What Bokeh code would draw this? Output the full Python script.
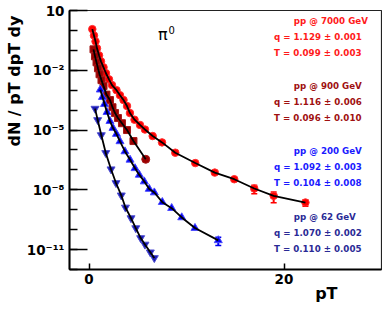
import numpy as np
from bokeh.plotting import figure
from bokeh.models import FixedTicker, Label, ColumnDataSource, Whisker, TeeHead, CustomJSTickFormatter, Range1d, Title
from bokeh.embed import file_html
from bokeh.resources import INLINE

# ---- data ----
pt_7000 = [0.34, 0.51, 0.67, 0.82, 1.03, 1.23, 1.49, 1.74, 2.05, 2.36, 2.82, 3.18, 3.54, 3.90,
           4.20, 4.67, 5.23, 5.74, 6.53, 7.49, 8.85, 10.9, 12.9, 14.9, 16.95, 18.94, 22.2]
y_7000 = [1.16, 0.56, 0.28, 0.126, 0.056, 0.028, 0.014, 7.1e-3, 3.5e-3, 1.8e-3, 1.0e-3, 5.6e-4,
          3.2e-4, 1.6e-4, 7.1e-5, 3.3e-5, 1.8e-5, 1.06e-5, 5.0e-6, 2.4e-6, 7.3e-7, 2.2e-7,
          7.3e-8, 3.4e-8, 1.16e-8, 5.0e-9, 2.3e-9]
err_7000 = [0] * 22 + [0.1, 0.2, 0.45, 0.55, 0.35]

pt_900 = [0.46, 0.62, 0.77, 0.92, 1.08, 1.28, 1.49, 1.79, 2.15, 2.41, 2.67, 2.97, 3.38, 3.90, 4.56, 5.82]
y_900 = [0.112, 0.05, 0.025, 0.0126, 6.3e-3, 3.2e-3, 1.6e-3, 6.0e-4, 3.2e-4, 1.4e-4, 7.1e-5,
         4.0e-5, 2.2e-5, 1.0e-5, 2.8e-6, 3.4e-7]

pt_200 = [1.16, 1.38, 1.59, 1.85, 2.15, 2.46, 2.82, 3.18, 3.69, 4.21, 4.72, 5.16, 5.67, 6.18,
          6.70, 7.52, 8.48, 9.51, 10.87, 13.26]
y_200 = [1.06e-3, 4.5e-4, 2.0e-4, 7.9e-5, 2.8e-5, 1.26e-5, 6.3e-6, 2.7e-6, 8.4e-7, 3.2e-7,
         1.2e-7, 5.6e-8, 2.6e-8, 1.1e-8, 7.3e-9, 2.4e-9, 1.2e-9, 4.1e-10, 1.2e-10, 2.9e-11]
err_200 = [0] * 19 + [0.45]

pt_62 = [0.62, 0.89, 1.26, 1.72, 2.26, 2.77, 3.31, 3.74, 4.31, 4.80, 5.30, 5.74, 6.29, 6.70]
y_62 = [1.19e-4, 3.2e-5, 5.6e-6, 7.1e-7, 1.08e-7, 2.2e-8, 5.3e-9, 1.3e-9, 3.8e-10, 1.2e-10,
        3.8e-11, 1.8e-11, 7.3e-12, 3.8e-12]

energies = ["7000", "900", "200", "62"]
q_vals = ["1.129", "1.116", "1.092", "1.070"]
q_errs = ["0.001", "0.006", "0.003", "0.002"]
T_vals = ["0.099", "0.096", "0.104", "0.110"]
T_errs = ["0.003", "0.010", "0.008", "0.005"]
text_colors = ["#ff1a1a", "#a01010", "#1a1aff", "#2a2a96"]

y_major = [10, 1e-2, 1e-5, 1e-8, 1e-11]
y_minor = [10.0 ** k for k in range(-12, 2)]
x_major = [0, 20]

FONT = "DejaVu Sans"

p = figure(width=382, height=302, output_backend="svg", toolbar_location=None,
           y_axis_type="log", x_range=Range1d(-2, 30), y_range=Range1d(1e-12, 10),
           min_border_left=69, min_border_right=1, min_border_top=10, min_border_bottom=33)
p.xgrid.visible = False
p.ygrid.visible = False
p.outline_line_color = "#222222"
p.outline_line_width = 1.2
p.background_fill_color = "white"

for ax in (p.xaxis[0], p.yaxis[0]):
    ax.axis_line_width = 2
    ax.axis_line_color = "black"
    ax.major_tick_line_color = "black"
    ax.minor_tick_line_color = "black"
    ax.major_tick_line_width = 1.5
    ax.minor_tick_line_width = 1.5
    ax.major_tick_out = 0
    ax.minor_tick_out = 0
    ax.major_label_text_font = FONT
    ax.major_label_text_font_style = "bold"
    ax.major_label_text_font_size = "13.5px"
    ax.major_label_text_color = "black"

p.xaxis.ticker = FixedTicker(ticks=x_major, minor_ticks=[])
p.xaxis.major_tick_in = 6
p.xaxis.major_label_standoff = 4

p.yaxis.ticker = FixedTicker(ticks=y_major, minor_ticks=y_minor)
p.yaxis.major_tick_in = 18
p.yaxis.minor_tick_in = 8
p.yaxis.major_label_standoff = 5
p.yaxis.formatter = CustomJSTickFormatter(code="""
const e = Math.round(Math.log10(tick));
if (e == 1) { return "10"; }
const sup = {"-": "\u207b", "0": "\u2070", "1": "\u00b9", "2": "\u00b2", "3": "\u00b3",
             "4": "\u2074", "5": "\u2075", "6": "\u2076", "7": "\u2077", "8": "\u2078", "9": "\u2079"};
return "10" + String(e).split("").map(c => sup[c]).join("");
""")

# axis titles
p.add_layout(Title(text="dN / pT dpT dy", align="right", offset=5, standoff=0,
                   text_font=FONT, text_font_style="bold", text_font_size="16px",
                   text_color="black"), "left")
p.add_layout(Title(text="pT", align="right", offset=44, standoff=-9,
                   text_font=FONT, text_font_style="bold", text_font_size="16px",
                   text_color="black"), "below")

# pi0
p.add_layout(Label(x=7.08, y=10 ** -0.2, text="π", text_align="left", text_baseline="middle",
                   text_font=FONT, text_font_size="16px", text_color="black"))
p.add_layout(Label(x=8.15, y=1.0, text="0", text_align="left", text_baseline="middle",
                   text_font=FONT, text_font_size="10px", text_color="black"))

# parameter texts
head_logy = [0.45, -2.8, -6.05, -9.35]
for i in range(4):
    ly = head_logy[i]
    lines = [(21.0, ly, f"pp @ {energies[i]} GeV"),
             (18.97, ly - 0.8, f"q = {q_vals[i]} ± {q_errs[i]}"),
             (18.97, ly - 1.6, f"T = {T_vals[i]} ± {T_errs[i]}")]
    for x, l, txt in lines:
        p.add_layout(Label(x=x, y=10 ** l, text=txt, text_align="left", text_baseline="middle",
                           text_font=FONT, text_font_style="bold", text_font_size="8.7px",
                           text_color=text_colors[i]))

# markers
p.scatter(pt_7000, y_7000, marker="circle", size=7.5, fill_color="#ff0000", line_color="#ff3030")
p.scatter(pt_900[:-1], y_900[:-1], marker="square", size=7, fill_color="#9b0000", line_color="#a51a1a")
p.scatter(pt_900[-1:], y_900[-1:], marker="circle", size=8, fill_color="#9b0000", line_color="#a51a1a")
p.scatter(pt_200, y_200, marker="triangle", size=8, fill_color="#0000f0", line_color="#4a4aff")
p.scatter(pt_62, y_62, marker="inverted_triangle", size=8, fill_color="#1a1ab4", line_color="#5050d0")

# error bars
def whisk(xs, ys, es, color):
    sel = [i for i, e in enumerate(es) if e > 0]
    src = ColumnDataSource(dict(x=[xs[i] for i in sel],
                                up=[ys[i] * (1 + es[i]) for i in sel],
                                lo=[ys[i] * (1 - es[i]) for i in sel]))
    w = Whisker(base="x", upper="up", lower="lo", source=src, dimension="height",
                line_color=color, line_width=2,
                upper_head=TeeHead(size=6, line_color=color, line_width=1.5),
                lower_head=TeeHead(size=6, line_color=color, line_width=1.5))
    p.add_layout(w)

whisk(pt_7000, y_7000, err_7000, "#ff0000")
whisk(pt_200, y_200, err_200, "#0000f0")

# fit curves (through read values)
for xs, ys in ((pt_7000, y_7000), (pt_900, y_900), (pt_200, y_200), (pt_62, y_62)):
    p.line(xs, ys, line_color="black", line_width=1.8)

open("out.html", "w").write(file_html(p, INLINE))
